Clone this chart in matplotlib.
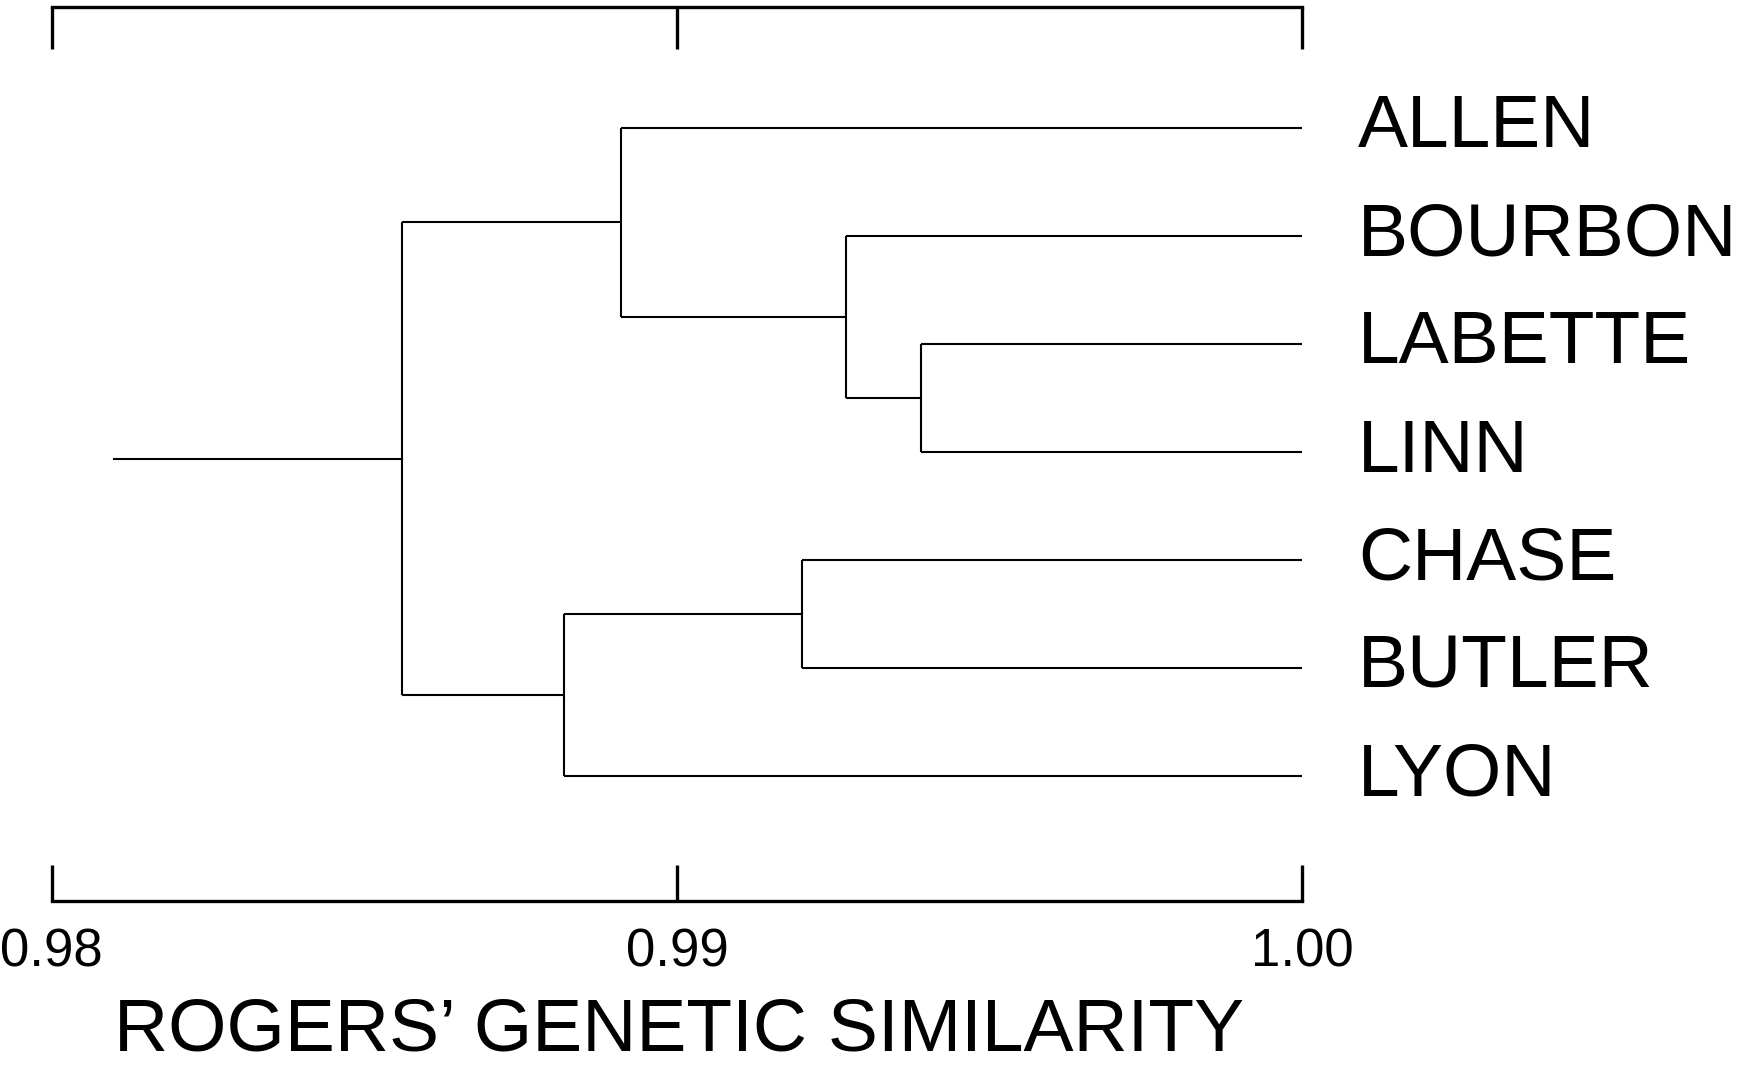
import matplotlib.pyplot as plt
from matplotlib import font_manager

# leaves, top to bottom
leaves = ["ALLEN", "BOURBON", "LABETTE", "LINN", "CHASE", "BUTLER", "LYON"]
# merges: clusters 0..6 are leaves, merge k makes cluster 7 + k
merge_a = [2, 4, 1, 0, 8, 10]
merge_b = [3, 5, 7, 9, 6, 11]
merge_sim = [0.9939, 0.9920, 0.9927, 0.9891, 0.9882, 0.9856]
root_stub = 0.9810
ticks = [0.98, 0.99, 1.00]
tick_labels = ["0.98", "0.99", "1.00"]
xlabel = "ROGERS\u2019 GENETIC SIMILARITY"

DPI = 100
fig = plt.figure(figsize=(1758 / DPI, 1070 / DPI), dpi=DPI)
ax = fig.add_axes([0, 0, 1, 1])
ax.set_xlim(0.979175, 1.007283)
ax.set_ylim(8.718, -1.183)
ax.axis("off")

names = {f.name for f in font_manager.fontManager.ttflist}
if "Liberation Sans Narrow" in names:
    tick_font, tick_size = "Liberation Sans Narrow", 44
else:
    tick_font, tick_size = "Liberation Sans", 38
main_font = "Liberation Sans"

TREE_LW = 1.5
AX_LW = 2.4

# positions of every cluster
xs = {i: 1.0 for i in range(len(leaves))}
ys = {i: float(i) for i in range(len(leaves))}
for k, (a, b, s) in enumerate(zip(merge_a, merge_b, merge_sim)):
    node = len(leaves) + k
    ax.plot([s, s], [ys[a], ys[b]], color="black", lw=TREE_LW, solid_capstyle="butt")
    for c in (a, b):
        ax.plot([s, xs[c]], [ys[c], ys[c]], color="black", lw=TREE_LW, solid_capstyle="butt")
    xs[node] = s
    ys[node] = (ys[a] + ys[b]) / 2

root = len(leaves) + len(merge_sim) - 1
ax.plot([root_stub, xs[root]], [ys[root], ys[root]], color="black", lw=TREE_LW)

# leaf labels
for i, name in enumerate(leaves):
    ax.annotate(name, (xs[i], ys[i]), xytext=(40, 0), textcoords="offset points",
                ha="left", va="center", fontsize=54, family=main_font)

# scale bars top and bottom
for y_line, y_tick in [(-1.121, -0.727), (7.153, 6.82)]:
    ax.plot([ticks[0], ticks[-1]], [y_line, y_line], color="black", lw=AX_LW,
            solid_capstyle="projecting")
    for t in ticks:
        ax.plot([t, t], [y_line, y_tick], color="black", lw=AX_LW, solid_capstyle="butt")

for t, lab in zip(ticks, tick_labels):
    ax.text(t, 7.63, lab, ha="center", va="center", fontsize=tick_size, family=tick_font)

ax.text(0.990027, 8.36, xlabel, ha="center", va="center", fontsize=54, family=main_font)

plt.savefig("out.png", dpi=DPI)
plt.close()
